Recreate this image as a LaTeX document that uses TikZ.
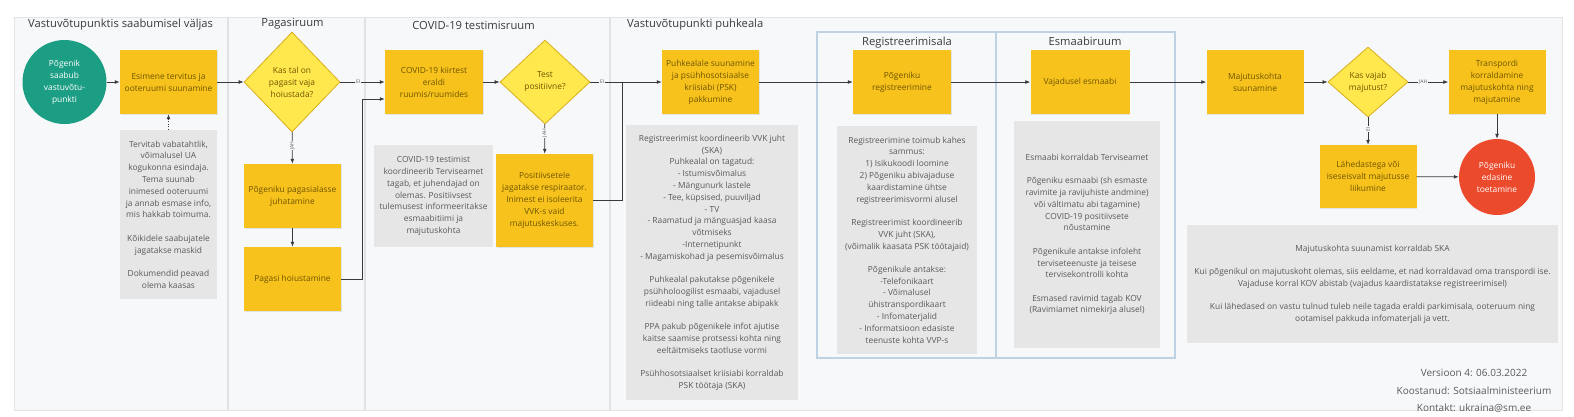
\documentclass[tikz,border=0pt]{standalone}
\usepackage{fontspec}
\setmainfont{Open Sans}
\usetikzlibrary{shapes.geometric,arrows.meta,calc,shadows}
\definecolor{panelbg}{HTML}{F7F8FA}
\definecolor{panelline}{HTML}{E2E4E8}
\definecolor{sepline}{HTML}{E0E2E6}
\definecolor{framecol}{HTML}{BFD2E4}
\definecolor{yel}{HTML}{F8C21C}
\definecolor{ytext}{HTML}{6E5600}
\definecolor{diafill}{HTML}{FFE84D}
\definecolor{diadraw}{HTML}{D9AE1E}
\definecolor{grn}{HTML}{1C9E84}
\definecolor{redc}{HTML}{EC4A2C}
\definecolor{gfill}{HTML}{E6E6E6}
\definecolor{gtext}{HTML}{5A5A5A}
\definecolor{lnk}{HTML}{3A3A3A}
\definecolor{titletext}{HTML}{3C3C3C}
\begin{document}
\begin{tikzpicture}[x=1pt,y=-1pt,
  ybox/.style={rectangle, fill=yel, draw=none, minimum width=97pt, minimum height=64pt,
    inner sep=1pt, align=center, font=\fontsize{8.4}{12}\selectfont, text=ytext,
    drop shadow={shadow xshift=0.8pt, shadow yshift=-0.8pt, opacity=0.18}},
  gbox/.style={rectangle, fill=gfill, draw=none, inner sep=1pt, align=center,
    font=\fontsize{8.4}{11.8}\selectfont, text=gtext},
  dia/.style={diamond, aspect=1, inner sep=0pt, fill=diafill, draw=diadraw, line width=0.8pt,
    align=center, font=\fontsize{8.4}{12}\selectfont, text=ytext},
  circ/.style={circle, inner sep=0pt, align=center, font=\fontsize{8.4}{12}\selectfont, text=white},
  arr/.style={draw=lnk, line width=0.7pt, -{Latex[length=5pt,width=3.8pt]}},
  ln/.style={draw=lnk, line width=0.7pt},
  dotarr/.style={draw=lnk, line width=0.7pt, dash pattern=on 1pt off 1.6pt, -{Latex[length=5pt,width=3.8pt]}},
  lbl/.style={fill=panelbg, inner sep=0.8pt, font=\fontsize{5}{6}\selectfont, text=gtext},
  title/.style={inner sep=0pt, font=\fontsize{11.2}{13}\selectfont, text=titletext},
  foot/.style={inner sep=0pt, font=\fontsize{10}{12}\selectfont, text=gtext}
]
\useasboundingbox (0,0) rectangle (1574,416);
\fill[white] (0,0) rectangle (1574,416);
% panel and lanes
\filldraw[fill=panelbg, draw=panelline, line width=1pt] (14,17) rectangle (1562,410);
\draw[sepline, line width=2pt] (228,17) -- (228,410);
\draw[sepline, line width=2pt] (365,17) -- (365,410);
\draw[sepline, line width=2pt] (610,17) -- (610,410);
\draw[framecol, line width=1.2pt] (817,32) rectangle (996,358);
\draw[framecol, line width=1.2pt] (996,32) rectangle (1175,358);
% titles
\node[title, anchor=west] (t1) at (28,25) {Vastuvõtupunktis saabumisel väljas};
\node[title] (t2) at (292.5,24) {Pagasiruum};
\node[title] (t3) at (473.5,25) {COVID-19 testimisruum};
\node[title, anchor=west] (t4) at (627,25) {Vastuvõtupunkti puhkeala};
\node[title] (t5) at (907,43) {Registreerimisala};
\node[title] (t6) at (1085,41) {Esmaabiruum};
% gray notes
\node[gbox, minimum width=97pt, minimum height=169pt] (g1) at (168.5,214.5)
 {Tervitab vabatahtlik,\\võimalusel UA\\kogukonna esindaja.\\Tema suunab\\inimesed ooteruumi\\ja annab esmase info,\\mis hakkab toimuma.\\[11.5pt]Kõikidele saabujatele\\jagatakse maskid\\[11.5pt]Dokumendid peavad\\olema kaasas};
\node[gbox, minimum width=119pt, minimum height=102pt] (g2) at (433.5,196)
 {COVID-19 testimist\\koordineerib Terviseamet\\tagab, et juhendajad on\\olemas. Positiivsest\\tulemusest informeeritakse\\esmaabitiimi ja\\majutuskohta};
\node[gbox, minimum width=172pt, minimum height=275pt] (g3) at (712,262.5)
 {Registreerimist koordineerib VVK juht\\(SKA)\\Puhkealal on tagatud:\\- Istumisvõimalus\\- Mängunurk lastele\\- Tee, küpsised, puuviljad\\- TV\\- Raamatud ja mänguasjad kaasa\\võtmiseks\\-Internetipunkt\\- Magamiskohad ja pesemisvõimalus\\[11.5pt]Puhkealal pakutakse põgenikele\\psühholoogilist esmaabi, vajadusel\\riideabi ning talle antakse abipakk\\[11.5pt]PPA pakub põgenikele infot ajutise\\kaitse saamise protsessi kohta ning\\eeltäitmiseks taotluse vormi\\[11.5pt]Psühhosotsiaalset kriisiabi korraldab\\PSK töötaja (SKA)};
\node[gbox, minimum width=140pt, minimum height=228pt] (g4) at (907,240)
 {Registreerimine toimub kahes\\sammus:\\1) Isikukoodi loomine\\2) Põgeniku abivajaduse\\kaardistamine ühtse\\registreerimisvormi alusel\\[11.5pt]Registreerimist koordineerib\\VVK juht (SKA),\\(võimalik kaasata PSK töötajaid)\\[11.5pt]Põgenikule antakse:\\-Telefonikaart\\- Võimalusel\\ühistranspordikaart\\- Infomaterjalid\\- Informatsioon edasiste\\teenuste kohta VVP-s};
\node[gbox, minimum width=146pt, minimum height=227pt] (g5) at (1087,234.5)
 {Esmaabi korraldab Terviseamet\\[11.5pt]Põgeniku esmaabi (sh esmaste\\ravimite ja ravijuhiste andmine)\\või vältimatu abi tagamine)\\COVID-19 positiivsete\\nõustamine\\[11.5pt]Põgenikule antakse infoleht\\terviseteenuste ja teisese\\tervisekontrolli kohta\\[11.5pt]Esmased ravimid tagab KOV\\(Ravimiamet nimekirja alusel)};
\node[gbox, minimum width=371pt, minimum height=118pt] (g6) at (1372.5,284)
 {Majutuskohta suunamist korraldab SKA\\[11.5pt]Kui põgenikul on majutuskoht olemas, siis eeldame, et nad korraldavad oma transpordi ise.\\Vajaduse korral KOV abistab (vajadus kaardistatakse registreerimisel)\\[11.5pt]Kui lähedased on vastu tulnud tuleb neile tagada eraldi parkimisala, ooteruum ning\\ootamisel pakkuda infomaterjali ja vett.};
% main nodes
\node[circ, fill=grn, minimum size=84pt] (start) at (64.5,82) {Põgenik\\saabub\\vastuvõtu-\\punkti};
\node[ybox] (esim) at (168.5,82) {Esimene tervitus ja\\ooteruumi suunamine};
\node[dia, minimum width=96pt, minimum height=100pt] (d1) at (292,82) {Kas tal on\\pagasit vaja\\hoiustada?};
\node[ybox] (pag1) at (292.5,196) {Põgeniku pagasialasse\\juhatamine};
\node[ybox] (pag2) at (292.5,279) {Pagasi hoiustamine};
\node[ybox, minimum width=98pt] (cov) at (434,82) {COVID-19 kiirtest\\eraldi\\ruumis/ruumides};
\node[dia, minimum width=90pt, minimum height=84pt] (d2) at (545,82) {Test\\positiivne?};
\node[ybox, minimum height=93pt] (pos) at (544.5,200.5) {Positiivsetele\\jagatakse respiraator.\\Inimest ei isoleerita\\VVK-s vaid\\majutuskeskuses.};
\node[ybox] (puh) at (710.5,82) {Puhkealale suunamine\\ja psühhosotsiaalse\\kriisiabi (PSK)\\pakkumine};
\node[ybox, minimum width=98pt] (reg) at (902,82) {Põgeniku\\registreerimine};
\node[ybox, minimum width=99pt] (vaj) at (1080,82) {Vajadusel esmaabi};
\node[ybox, minimum width=97pt] (maj) at (1255,82) {Majutuskohta\\suunamine};
\node[dia, minimum width=80pt, minimum height=70pt] (d3) at (1368,82) {Kas vajab\\majutust?};
\node[ybox, minimum width=97pt] (tra) at (1497,82) {Transpordi\\korraldamine\\majutuskohta ning\\majutamine};
\node[ybox, minimum width=97pt, minimum height=63pt] (lah) at (1368,176.5) {Lähedastega või\\iseseisvalt majutusse\\liikumine};
\node[circ, fill=redc, minimum size=76pt] (fin) at (1497,177) {Põgeniku\\edasine\\toetamine};
% connectors
\draw[arr] (start) -- (esim);
\draw[dotarr] (g1) -- (esim);
\draw[arr] (esim) -- (d1);
\draw[arr] (d1) -- node[lbl, pos=0.4] {EI} (cov);
\draw[arr] (d1) -- node[lbl, pos=0.42, rotate=90] {JAH} (pag1);
\draw[arr] (pag1) -- (pag2);
\coordinate (ret) at (362,99);
\draw[arr] (pag2.east) -| (ret) -- (ret -| cov.west);
\draw[arr] (cov) -- (d2);
\coordinate (jn) at (622,82);
\draw[ln] (d2.east) -- node[lbl, pos=0.37] {EI} (jn);
\draw[arr] (jn) -- (puh.west);
\draw[ln] (pos.east) -| (jn);
\draw[arr] (d2) -- node[lbl, pos=0.3, rotate=90] {JAH} (pos);
\draw[arr] (puh) -- (reg);
\draw[arr] (reg) -- (vaj);
\draw[arr] (vaj) -- (maj);
\draw[arr] (maj) -- (d3);
\draw[arr] (d3) -- node[lbl, pos=0.37] {JAH} (tra);
\draw[arr] (d3) -- node[lbl, pos=0.43, rotate=90] {EI} (lah);
\draw[arr] (lah) -- (fin);
\draw[arr] (tra) -- (fin);
% footer
\node[foot] (ver) at (1474,373) {Versioon 4: 06.03.2022};
\node[foot] (koo) at (1474,391) {Koostanud: Sotsiaalministeerium};
\node[foot] (kon) at (1474,408) {Kontakt: ukraina@sm.ee};
\end{tikzpicture}
\end{document}
